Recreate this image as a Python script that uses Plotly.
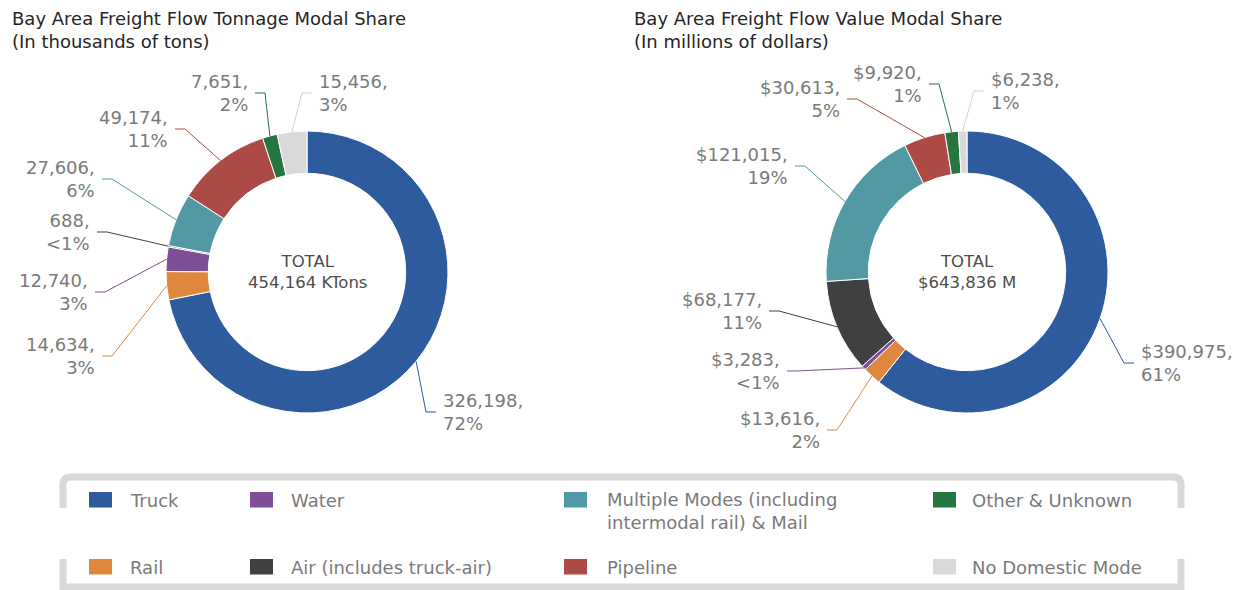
import math
import plotly.graph_objects as go

W, H = 1241, 590

# ---------------- data ----------------
modes = ["Truck", "Rail", "Water", "Air (includes truck-air)",
         "Multiple Modes (including intermodal rail) & Mail",
         "Pipeline", "Other & Unknown", "No Domestic Mode"]
legend_labels = ["Truck", "Rail", "Water", "Air (includes truck-air)",
                 "Multiple Modes (including<br>intermodal rail) & Mail",
                 "Pipeline", "Other & Unknown", "No Domestic Mode"]
colors = ["#2D5B9E", "#E0873E", "#7E4E96", "#404042",
          "#5399A3", "#AC4B45", "#257540", "#D8D9DA"]
line_colors = ["#2D5B9E", "#E0873E", "#7E4E96", "#404042",
               "#5399A3", "#AC4B45", "#257540", "#D0D0D0"]

tonnage = [326198, 14634, 12740, 688, 27606, 49174, 7651, 15456]
tonnage_pct = ["72%", "3%", "3%", "<1%", "6%", "11%", "2%", "3%"]
tonnage_total = "454,164 KTons"

value = [390975, 13616, 3283, 68177, 121015, 30613, 9920, 6238]
value_pct = ["61%", "2%", "<1%", "11%", "19%", "5%", "1%", "1%"]
value_total = "$643,836 M"

# ---------------- layout constants ----------------
FONT = "DejaVu Sans"
LABEL_GRAY = "#7a7a7a"
TITLE_COLOR = "#262626"
R_OUT = 141
HOLE = 0.70
GAP, STUB = 5, 10

charts = [
    dict(values=tonnage, pcts=tonnage_pct, prefix="", total=tonnage_total,
         center=(307, 272), title_x=10,
         title="Bay Area Freight Flow Tonnage Modal Share",
         subtitle="(In thousands of tons)",
         label_pos=[("R", 441, 412), ("L", 97, 356), ("L", 90, 292),
                    ("L", 92, 232), ("L", 97, 179), ("L", 170, 129),
                    ("L", 250, 93), ("R", 317, 93)]),
    dict(values=value, pcts=value_pct, prefix="$", total=value_total,
         center=(967, 272), title_x=632,
         title="Bay Area Freight Flow Value Modal Share",
         subtitle="(In millions of dollars)",
         label_pos=[("R", 1139, 363), ("L", 822, 430), ("L", 782, 371),
                    ("L", 764, 311), ("L", 790, 166), ("L", 842, 99),
                    ("L", 924, 84), ("R", 989, 91)]),
]


def px(x):
    return x / W


def py(y):
    return 1 - y / H


fig = go.Figure()
shapes = []
annotations = []

for ch in charts:
    cx, cy = ch["center"]
    fig.add_trace(go.Pie(
        labels=modes, values=ch["values"], sort=False, direction="clockwise",
        rotation=0, hole=HOLE, textinfo="none", hoverinfo="label+value+percent",
        marker=dict(colors=colors, line=dict(color="white", width=1)),
        domain=dict(x=[px(cx - R_OUT), px(cx + R_OUT)],
                    y=[py(cy + R_OUT), py(cy - R_OUT)]),
        showlegend=False,
    ))
    total = sum(ch["values"])
    cum = 0
    for i, v in enumerate(ch["values"]):
        mid = (cum + v / 2) / total
        cum += v
        th = 2 * math.pi * mid
        ex, ey = cx + R_OUT * math.sin(th), cy - R_OUT * math.cos(th)
        side, tx, ty = ch["label_pos"][i]
        if side == "R":
            s_end, elbow = tx - GAP, tx - GAP - STUB
        else:
            s_end, elbow = tx + GAP, tx + GAP + STUB
        path = (f"M {px(ex):.5f},{py(ey):.5f} L {px(elbow):.5f},{py(ty):.5f} "
                f"L {px(s_end):.5f},{py(ty):.5f}")
        shapes.append(dict(type="path", path=path, xref="paper", yref="paper",
                           line=dict(color=line_colors[i], width=1)))
        annotations.append(dict(
            x=px(tx), y=py(ty), xref="paper", yref="paper",
            text=f"{ch['prefix']}{v:,},<br>{ch['pcts'][i]}",
            showarrow=False, xanchor="left" if side == "R" else "right",
            yanchor="middle", align="left" if side == "R" else "right",
            font=dict(family=FONT, size=18, color=LABEL_GRAY)))
    # centre total
    annotations.append(dict(
        x=px(cx), y=py(cy), xref="paper", yref="paper",
        text=f"TOTAL<br>{ch['total']}", showarrow=False,
        xanchor="center", yanchor="middle", align="center",
        font=dict(family=FONT, size=16.5, color="#4d4d4d")))
    # titles
    annotations.append(dict(
        x=px(ch["title_x"]), y=py(6), xref="paper", yref="paper",
        text=f"{ch['title']}<br>{ch['subtitle']}", showarrow=False,
        xanchor="left", yanchor="top", align="left",
        font=dict(family=FONT, size=18, color=TITLE_COLOR)))

# ---------------- custom legend ----------------
BORDER = "#D9D9D9"
L_X, R_X = 63, 1181
shapes.append(dict(
    type="path", xref="paper", yref="paper",
    path=(f"M {px(L_X)},{py(508)} L {px(L_X)},{py(485)} Q {px(L_X)},{py(477)} {px(L_X + 8)},{py(477)} "
          f"L {px(R_X - 8)},{py(477)} Q {px(R_X)},{py(477)} {px(R_X)},{py(485)} L {px(R_X)},{py(508)}"),
    line=dict(color=BORDER, width=7)))
shapes.append(dict(
    type="path", xref="paper", yref="paper",
    path=(f"M {px(L_X)},{py(559)} L {px(L_X)},{py(587)} L {px(R_X)},{py(587)} L {px(R_X)},{py(559)}"),
    line=dict(color=BORDER, width=7)))

col_sq_x = [89, 250, 564, 933]
col_tx_x = [128, 289, 605, 970]
row_y = [500, 567]
for i, lab in enumerate(legend_labels):
    c, r = i // 2, i % 2
    y = row_y[r]
    shapes.append(dict(type="rect", xref="paper", yref="paper",
                       x0=px(col_sq_x[c]), x1=px(col_sq_x[c] + 23),
                       y0=py(y - 8), y1=py(y + 7.5),
                       fillcolor=colors[i], line=dict(width=0)))
    if "<br>" in lab:
        annotations.append(dict(x=px(col_tx_x[c]), y=py(y - 13), xref="paper", yref="paper",
                                text=lab, showarrow=False, xanchor="left", yanchor="top",
                                align="left", font=dict(family=FONT, size=18, color=LABEL_GRAY)))
    else:
        annotations.append(dict(x=px(col_tx_x[c]), y=py(y), xref="paper", yref="paper",
                                text=lab, showarrow=False, xanchor="left", yanchor="middle",
                                align="left", font=dict(family=FONT, size=18, color=LABEL_GRAY)))

fig.update_layout(
    width=W, height=H, margin=dict(l=0, r=0, t=0, b=0),
    paper_bgcolor="white", plot_bgcolor="white",
    shapes=shapes, annotations=annotations, showlegend=False,
    font=dict(family=FONT),
)
fig.write_html(
    "out.html",
    config={"displayModeBar": False},
    post_script="document.body.style.margin='0';document.body.style.padding='0';"
                "document.body.style.overflow='hidden';",
)
